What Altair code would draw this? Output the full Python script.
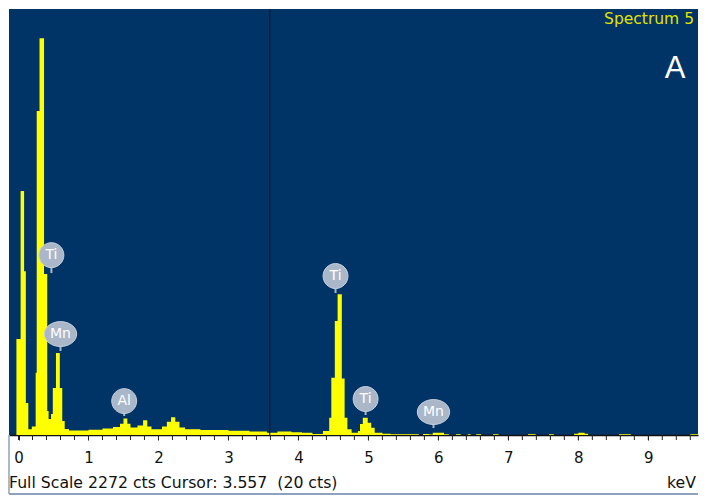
import altair as alt
import pandas as pd

# ---- spectrum (step breakpoints in keV, counts) ----
kev = [-0.03, 0.03, 0.08, 0.105, 0.14, 0.19, 0.245, 0.26, 0.30, 0.365, 0.41, 0.43,
       0.465, 0.49, 0.535, 0.59, 0.625, 0.66, 0.72, 1.0, 1.2, 1.35, 1.45, 1.50,
       1.555, 1.6, 1.7, 1.78, 1.84, 1.9, 2.05, 2.12, 2.18, 2.24, 2.3, 2.38, 2.6,
       3.0, 3.3, 3.55, 3.7, 3.9, 4.05, 4.2, 4.35, 4.44, 4.47, 4.52, 4.56, 4.62,
       4.66, 4.70, 4.76, 4.85, 4.88, 4.92, 4.99, 5.04, 5.09, 5.2, 5.32, 5.72,
       5.78, 5.87, 5.92, 6.08, 6.15, 6.25, 6.32, 6.42, 6.46, 6.54, 6.61, 6.78,
       6.86, 7.28, 7.39, 7.58, 7.65, 7.94, 8.0, 8.09, 8.14, 8.58, 8.75, 9.6, 9.71]
counts = [510, 1295, 870, 170, 30, 45, 330, 1720, 2107, 855, 127, 85,
          111, 250, 435, 250, 74, 32, 24, 28, 35, 42, 60, 87,
          60, 40, 50, 78, 45, 30, 45, 70, 94, 70, 40, 30, 26,
          22, 18, 12, 18, 14, 12, 5, 21, 92, 304, 605, 747, 300,
          92, 30, 12, 21, 58, 92, 65, 39, 12, 6, 4, 0,
          5, 3, 12, 4, 0, 4, 0, 4, 0, 4, 0, 4,
          0, 4, 0, 4, 0, 6, 12, 6, 0, 4, 0, 4, 4]

# ---- element labels ----
el_names = ["Ti", "Mn", "Al", "Ti", "Ti", "Mn"]
el_kev = [0.47, 0.60, 1.51, 4.53, 4.96, 5.93]
el_cts = [955, 536, 180, 844, 191, 122]
el_stem = [860, 446, 101, 754, 106, 37]

label_values = [0, 1, 2, 3, 4, 5, 6, 7, 8, 9]
minor_ticks = [i / 5 for i in range(0, 49)]
cursor_kev = 3.59
full_scale = 2262

spec = pd.DataFrame({"keV": kev, "cts": counts})
labels = pd.DataFrame({"el": el_names, "keV": el_kev, "cts": el_cts, "stem": el_stem,
                       "wide": [n == "Mn" for n in el_names]})
ticks_df = pd.DataFrame({"keV": minor_ticks})

W, H = 689, 426
xs = alt.Scale(domain=[-0.136, 9.71], nice=False, zero=False)
ys = alt.Scale(domain=[0, full_scale], nice=False, zero=True)

xaxis = alt.Axis(values=label_values, title=None, grid=False, format="d",
                 tickSize=5, tickColor="#222222", domainColor="#111111", domainWidth=1.5,
                 labelFontSize=15, labelFont="DejaVu Sans", labelColor="#111111",
                 labelPadding=10, labelFlush=False, labelOverlap=False)

area = alt.Chart(spec).mark_area(interpolate="step-after", color="#ffff00").encode(
    x=alt.X("keV:Q", scale=xs, axis=xaxis),
    y=alt.Y("cts:Q", scale=ys, axis=None),
)

minor = alt.Chart(ticks_df).mark_rule(color="#222222", strokeWidth=1).encode(
    x=alt.X("keV:Q", scale=xs), y=alt.value(H), y2=alt.value(H + 5))

cursor = alt.Chart(pd.DataFrame({"keV": [cursor_kev]})).mark_rule(color="#1a1a22", strokeWidth=1.2).encode(
    x=alt.X("keV:Q", scale=xs), y=alt.value(0), y2=alt.value(H))

stems = alt.Chart(labels).mark_rule(color="#aab7c9", strokeWidth=2).encode(
    x=alt.X("keV:Q", scale=xs), y=alt.Y("cts:Q", scale=ys), y2="stem:Q")

circle_path = "M -1 0 A 1 1 0 1 0 1 0 A 1 1 0 1 0 -1 0 Z"
ellipse_path = "M -1.3 0 A 1.3 1 0 1 0 1.3 0 A 1.3 1 0 1 0 -1.3 0 Z"

bub_c = alt.Chart(labels).transform_filter("!datum.wide").mark_point(
    shape=circle_path, filled=True, size=620, color="#aab7c9", stroke="#c9d2de",
    strokeWidth=1, opacity=1).encode(x=alt.X("keV:Q", scale=xs), y=alt.Y("cts:Q", scale=ys))
bub_e = alt.Chart(labels).transform_filter("datum.wide").mark_point(
    shape=ellipse_path, filled=True, size=620, color="#aab7c9", stroke="#c9d2de",
    strokeWidth=1, opacity=1).encode(x=alt.X("keV:Q", scale=xs), y=alt.Y("cts:Q", scale=ys))

btxt = alt.Chart(labels).mark_text(color="white", fontSize=14, font="DejaVu Sans",
                                   baseline="middle", align="center").encode(
    x=alt.X("keV:Q", scale=xs), y=alt.Y("cts:Q", scale=ys), text="el:N")

spec_title = alt.Chart(pd.DataFrame({"t": ["Spectrum 5"]})).mark_text(
    color="#e3e300", fontSize=15.5, font="DejaVu Sans", align="right", baseline="alphabetic").encode(
    x=alt.value(685), y=alt.value(15), text="t:N")
letter = alt.Chart(pd.DataFrame({"t": ["A"]})).mark_text(
    color="white", fontSize=31, font="Liberation Sans", align="center", baseline="alphabetic").encode(
    x=alt.value(666), y=alt.value(69), text="t:N")

footer = alt.Chart(pd.DataFrame({"t": ["Full Scale 2272 cts Cursor: 3.557\u00a0 (20 cts)"]})).mark_text(
    color="#111111", fontSize=15.7, font="DejaVu Sans", align="left", baseline="alphabetic").encode(
    x=alt.value(0), y=alt.value(479), text="t:N")
kev_lbl = alt.Chart(pd.DataFrame({"t": ["keV"]})).mark_text(
    color="#111111", fontSize=15.7, font="DejaVu Sans", align="right", baseline="alphabetic").encode(
    x=alt.value(687), y=alt.value(479), text="t:N")

frame_b = alt.Chart(pd.DataFrame({"a": [0]})).mark_rule(color="#8fa2bd", strokeWidth=2).encode(
    x=alt.value(0), x2=alt.value(W), y=alt.value(485))
frame_l = alt.Chart(pd.DataFrame({"a": [0]})).mark_rule(color="#8fa2bd", strokeWidth=1.5).encode(
    x=alt.value(0), y=alt.value(H), y2=alt.value(485))

chart = alt.layer(area, minor, cursor, stems, bub_c, bub_e, btxt, spec_title, letter,
                  footer, kev_lbl, frame_b, frame_l).properties(
    width=W, height=H, padding=0, background="white"
).configure_view(fill="#003366", stroke=None)

chart.save("out.html", embed_options={"renderer": "svg", "actions": False})
